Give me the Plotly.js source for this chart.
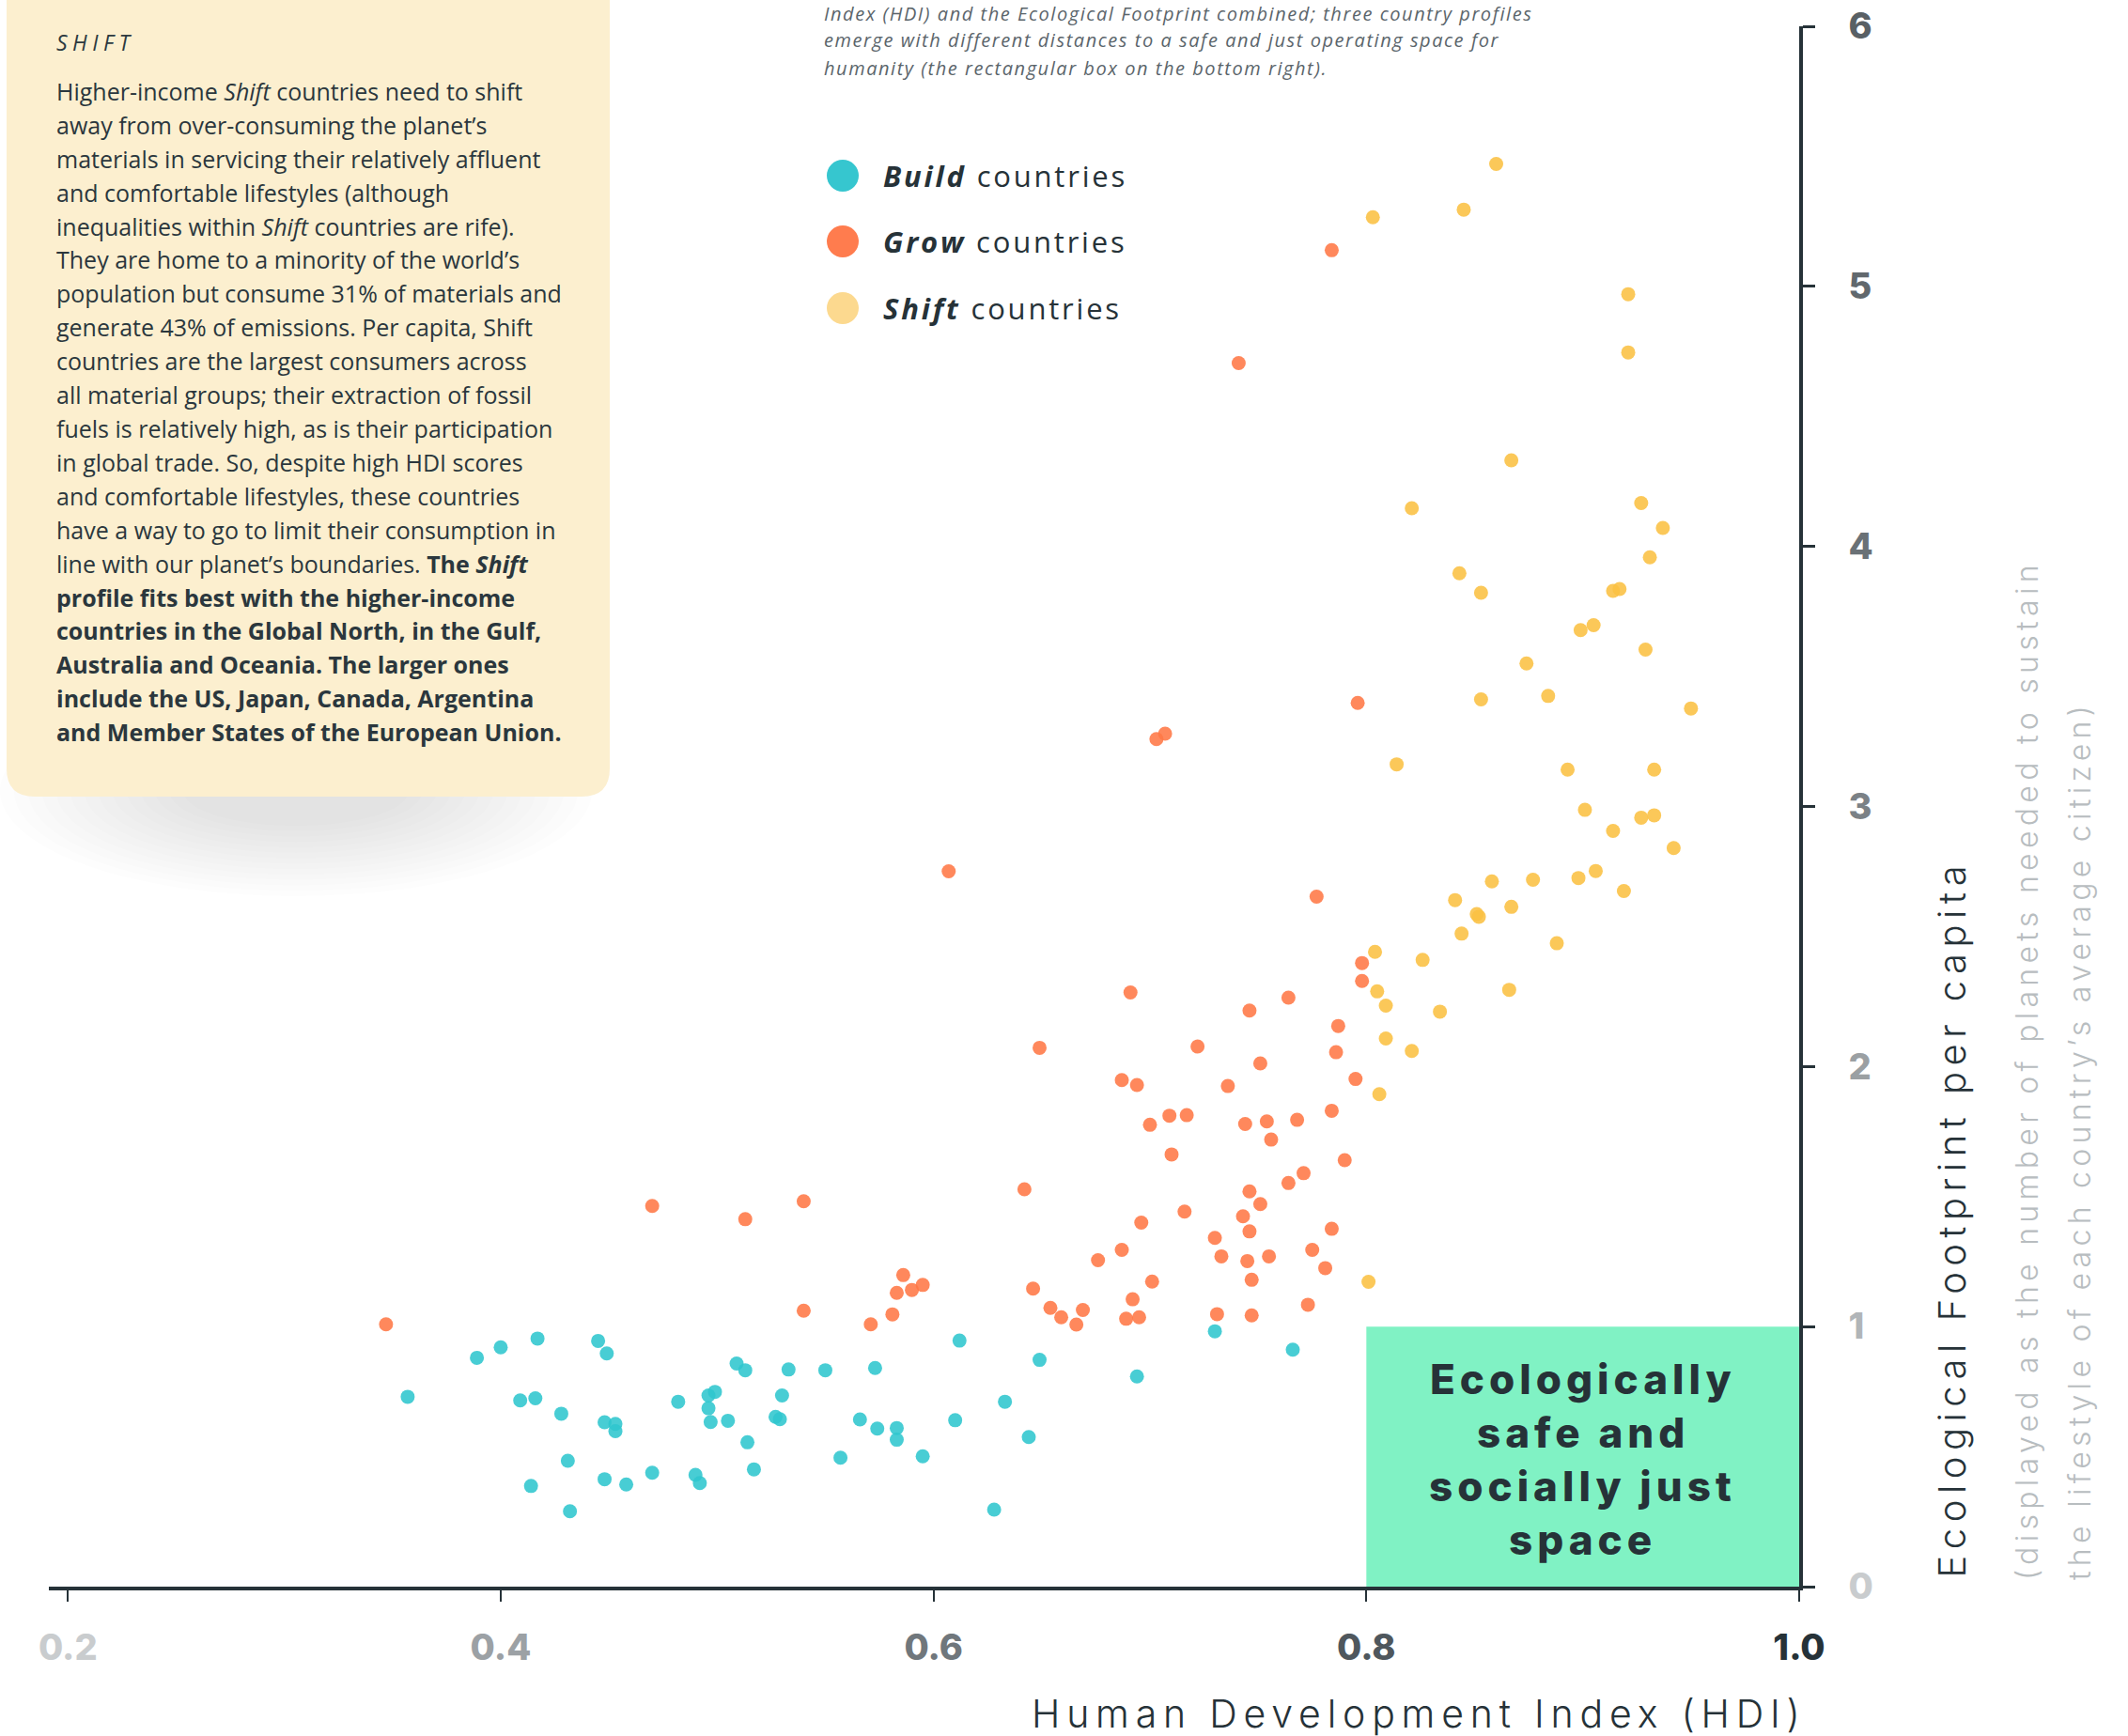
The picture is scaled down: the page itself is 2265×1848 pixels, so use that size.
<!DOCTYPE html>
<html>
<head>
<meta charset="utf-8">
<script src="https://cdn.plot.ly/plotly-3.0.1.min.js"></script>
<style>
html,body{margin:0;padding:0;background:#ffffff;}
#chart{width:2265px;height:1848px;}
</style>
</head>
<body>
<div id="chart"></div>
<script>
// ---------------- DATA ----------------
const buildHDI = [0.357,0.389,0.400,0.417,0.409,0.416,0.414,0.432,0.428,0.431,0.445,0.449,0.448,0.453,0.453,0.448,0.458,0.470,0.482,0.490,0.492,0.496,0.499,0.496,0.497,0.505,0.509,0.513,0.514,0.517,0.527,0.529,0.530,0.533,0.550,0.557,0.566,0.573,0.574,0.583,0.583,0.595,0.612,0.649,0.694,0.633,0.610,0.644,0.628,0.730,0.766];
const buildEF  = [0.73,0.88,0.92,0.954,0.716,0.724,0.387,0.29,0.665,0.484,0.945,0.897,0.632,0.626,0.598,0.413,0.393,0.438,0.711,0.43,0.398,0.735,0.749,0.686,0.633,0.638,0.858,0.832,0.555,0.451,0.653,0.644,0.735,0.835,0.832,0.496,0.643,0.841,0.608,0.61,0.565,0.501,0.946,0.872,0.808,0.711,0.64,0.575,0.296,0.982,0.911];

const growHDI = [0.347,0.470,0.513,0.540,0.540,0.571,0.581,0.583,0.586,0.590,0.595,0.607,0.642,0.646,0.649,0.654,0.659,0.666,0.669,0.676,0.687,0.689,0.692,0.695,0.696,0.701,0.700,0.709,0.717,0.710,0.716,0.730,0.733,0.731,0.746,0.751,0.743,0.746,0.745,0.755,0.747,0.747,0.744,0.754,0.756,0.768,0.764,0.771,0.784,0.775,0.781,0.773,0.784,0.790,0.796,0.703,0.707,0.777,0.798,0.798,0.691,0.764,0.746,0.787,0.722,0.786,0.751,0.795,0.687,0.694,0.736,0.784,0.741];
const growEF  = [1.009,1.464,1.413,1.482,1.061,1.009,1.047,1.130,1.198,1.141,1.160,2.751,1.528,1.146,2.072,1.072,1.036,1.008,1.064,1.255,1.295,1.030,1.105,1.036,1.400,1.173,1.776,1.811,1.813,1.662,1.442,1.341,1.270,1.048,1.520,1.471,1.424,1.366,1.252,1.270,1.180,1.043,1.779,1.789,1.719,1.795,1.552,1.590,1.376,1.295,1.225,1.084,1.830,1.640,3.398,3.259,3.280,2.653,2.398,2.329,2.285,2.265,2.215,2.156,2.077,2.055,2.012,1.952,1.948,1.929,1.925,5.139,4.705];

const shiftHDI = [0.860,0.845,0.803,0.921,0.921,0.867,0.821,0.927,0.937,0.931,0.843,0.853,0.914,0.917,0.899,0.905,0.929,0.874,0.853,0.884,0.950,0.814,0.893,0.933,0.901,0.914,0.927,0.933,0.942,0.858,0.877,0.898,0.906,0.919,0.841,0.867,0.851,0.852,0.844,0.888,0.804,0.826,0.805,0.809,0.866,0.834,0.809,0.821,0.806,0.801];
const shiftEF  = [5.471,5.295,5.266,4.970,4.746,4.331,4.147,4.167,4.071,3.958,3.897,3.822,3.829,3.836,3.678,3.697,3.603,3.550,3.412,3.425,3.377,3.162,3.142,3.142,2.987,2.906,2.957,2.966,2.840,2.712,2.718,2.725,2.752,2.675,2.640,2.614,2.586,2.576,2.511,2.474,2.441,2.410,2.289,2.234,2.295,2.211,2.108,2.060,1.894,1.172];

const groupNames = ['Build', 'Grow', 'Shift'];
const xTickVals = [0.2, 0.4, 0.6, 0.8, 1.0];
const xTickLabels = ['0.2', '0.4', '0.6', '0.8', '1.0'];
const yTickVals = [0, 1, 2, 3, 4, 5, 6];
const yTickLabels = ['0', '1', '2', '3', '4', '5', '6'];
const xRange = [0.1912, 1.0];
const yRange = [0, 6];
const safeHDI = 0.8;     // HDI threshold of the safe and just space
const safeEF = 1;        // one planet threshold

const subtitleLines = [
  'Index (HDI) and the Ecological Footprint combined; three country profiles',
  'emerge with different distances to a safe and just operating space for',
  'humanity (the rectangular box on the bottom right).'
];
const boxHeading = 'SHIFT';
const boxLines = [
  'Higher-income <i>Shift</i> countries need to shift',
  'away from over-consuming the planet’s',
  'materials in servicing their relatively affluent',
  'and comfortable lifestyles (although',
  'inequalities within <i>Shift</i> countries are rife).',
  'They are home to a minority of the world’s',
  'population but consume 31% of materials and',
  'generate 43% of emissions. Per capita, Shift',
  'countries are the largest consumers across',
  'all material groups; their extraction of fossil',
  'fuels is relatively high, as is their participation',
  'in global trade. So, despite high HDI scores',
  'and comfortable lifestyles, these countries',
  'have a way to go to limit their consumption in',
  'line with our planet’s boundaries. <b>The <i>Shift</i></b>',
  '<b>profile fits best with the higher-income</b>',
  '<b>countries in the Global North, in the Gulf,</b>',
  '<b>Australia and Oceania. The larger ones</b>',
  '<b>include the US, Japan, Canada, Argentina</b>',
  '<b>and Member States of the European Union.</b>'
];
const safeSpaceLines = ['Ecologically', 'safe and', 'socially just', 'space'];
const xTitle = 'Human Development Index (HDI)';
const yTitle = 'Ecological Footprint per capita';
const yNoteLines = ['(displayed as the number of planets needed to sustain', 'the lifestyle of each country’s average citizen)'];

// ---------------- STYLE ----------------
const DARK = '#263238';
const markerColors = ['#2fc6ce', '#ff7846', '#fbc042'];
const legendColors = ['#36c6cf', '#ff7c4e', '#fcd98f'];
const xTickColors = ['#c9ccce', '#9ca1a5', '#70777c', '#4f575d', '#263238'];
const yTickColors = ['#c9ccce', '#b1b5b8', '#9ba0a3', '#7b8186', '#6a7176', '#61686d', '#596065'];

const W = 2265, H = 1848;
const M = {l: 52, r: 350, t: 28, b: 159};
const PW = W - M.l - M.r, PH = H - M.t - M.b;
const px2x = p => (p - M.l) / PW;
const py2y = p => (M.t + PH - p) / PH;
const pt = (px, py) => px2x(px) + ',' + py2y(py);

const sp = (s, ls) => '<span style="letter-spacing:' + ls + 'px">' + s + '</span>';

// ---------------- TRACES ----------------
const series = [[buildHDI, buildEF], [growHDI, growEF], [shiftHDI, shiftEF]];
const traces = series.map((s, i) => ({
  type: 'scatter', mode: 'markers', name: groupNames[i] + ' countries',
  x: s[0], y: s[1],
  marker: {size: 15, color: markerColors[i], opacity: 0.88, line: {width: 0}},
  cliponaxis: false, hoverinfo: 'skip', showlegend: false
}));

// ---------------- SHAPES ----------------
const shapes = [];
// soft shadow under the text card (stacked translucent ellipses)
for (let k = 0; k < 14; k++) {
  const f = k / 13;
  const rx = 315 - f * 195, ry = 112 - f * 75, cx = 315, cy = 842;
  shapes.push({type: 'circle', xref: 'paper', yref: 'paper', layer: 'below',
    x0: px2x(cx - rx), x1: px2x(cx + rx), y0: py2y(cy + ry), y1: py2y(cy - ry),
    fillcolor: '#737e86', opacity: 0.016, line: {width: 0}});
}
// text card
(function () {
  const L = 7, R = 649, Tp = -40, B = 848, r = 30;
  const path = 'M' + pt(L, Tp) + ' L' + pt(R, Tp) + ' L' + pt(R, B - r) +
    ' Q' + pt(R, B) + ' ' + pt(R - r, B) + ' L' + pt(L + r, B) +
    ' Q' + pt(L, B) + ' ' + pt(L, B - r) + ' Z';
  shapes.push({type: 'path', xref: 'paper', yref: 'paper', layer: 'below', path: path,
    fillcolor: '#fcefcf', line: {width: 0}});
})();
// safe and just space
shapes.push({type: 'rect', xref: 'x', yref: 'y', layer: 'below',
  x0: safeHDI, x1: xRange[1], y0: yRange[0], y1: safeEF, fillcolor: '#80f2c4', line: {width: 0}});
// legend dots
const legendY = [187, 257, 328];
legendY.forEach((py, i) => {
  shapes.push({type: 'circle', xref: 'paper', yref: 'paper', layer: 'above',
    xsizemode: 'pixel', ysizemode: 'pixel', xanchor: px2x(897), yanchor: py2y(py),
    x0: -17, x1: 17, y0: -17, y1: 17, fillcolor: legendColors[i], line: {width: 0}});
});

// ---------------- ANNOTATIONS ----------------
const ann = [];
const paperAnn = (text, px, py, opts) => Object.assign({
  text: text, xref: 'paper', yref: 'paper', x: px2x(px), y: py2y(py),
  showarrow: false, xanchor: 'left', yanchor: 'middle', align: 'left'
}, opts);

subtitleLines.forEach((s, i) => {
  ann.push(paperAnn(sp(s, 1.55), 875, 14 + i * 29,
    {font: {family: 'Open Sans', size: 20, color: '#5b656b', style: 'italic'}}));
});
ann.push(paperAnn(sp(boxHeading, 5.5), 58, 45,
  {font: {family: 'Open Sans', size: 23, color: '#2d3a40', style: 'italic'}}));
boxLines.forEach((s, i) => {
  ann.push(paperAnn(s, 58, 97 + i * 35.9,
    {font: {family: 'Open Sans', size: 25, color: '#2b373d'}}));
});
groupNames.forEach((g, i) => {
  ann.push(paperAnn(sp('<b><i>' + g + '</i></b> countries', 2.8), 938, legendY[i],
    {font: {family: 'Open Sans', size: 31, color: DARK}}));
});
safeSpaceLines.forEach((s, i) => {
  ann.push({text: sp(s, 5.0), xref: 'x', yref: 'paper', x: (safeHDI + xRange[1]) / 2, y: py2y(1468 + i * 57),
    showarrow: false, xanchor: 'center', yanchor: 'middle', align: 'center',
    font: {family: 'Inter', size: 44, color: DARK, weight: 800}});
});
ann.push(paperAnn(sp(xTitle, 6.8), 1925, 1824,
  {xanchor: 'right', align: 'right', font: {family: 'Inter', size: 41, color: DARK, weight: 300}}));
ann.push({text: sp(yTitle, 6.5), xref: 'paper', yref: 'paper', x: px2x(2077), y: py2y(1682),
  textangle: -90, showarrow: false, xanchor: 'center', yanchor: 'bottom', align: 'left',
  font: {family: 'Inter', size: 40, color: DARK, weight: 300}});
yNoteLines.forEach((s, i) => {
  ann.push({text: sp(s, 5.3), xref: 'paper', yref: 'paper', x: px2x(2157 + i * 56), y: py2y(1684),
    textangle: -90, showarrow: false, xanchor: 'center', yanchor: 'bottom', align: 'left',
    font: {family: 'Inter', size: 32, color: '#b8bdc0', weight: 300}});
});

// ---------------- LAYOUT ----------------
const tickText = (labels, colors) => labels.map((t, i) => '<span style="color:' + colors[i] + '">' + t + '</span>');

const layout = {
  width: W, height: H,
  margin: M,
  paper_bgcolor: '#ffffff', plot_bgcolor: 'rgba(0,0,0,0)',
  showlegend: false, hovermode: false,
  font: {family: 'Open Sans', color: DARK},
  xaxis: {
    range: xRange, showgrid: false, zeroline: false,
    showline: true, linecolor: DARK, linewidth: 4,
    ticks: 'outside', ticklen: 12, tickwidth: 2, tickcolor: DARK,
    tickmode: 'array', tickvals: xTickVals, ticktext: tickText(xTickLabels, xTickColors),
    tickfont: {family: 'Inter', size: 38, color: DARK, weight: 800},
    ticklabelstandoff: 16, fixedrange: true
  },
  yaxis: {
    range: yRange, side: 'right', showgrid: false, zeroline: false,
    showline: true, linecolor: DARK, linewidth: 4,
    ticks: 'outside', ticklen: 13, tickwidth: 3, tickcolor: DARK,
    tickmode: 'array', tickvals: yTickVals, ticktext: tickText(yTickLabels, yTickColors),
    tickfont: {family: 'Inter', size: 38, color: DARK, weight: 800},
    ticklabelstandoff: 28, fixedrange: true
  },
  shapes: shapes,
  annotations: ann
};

Plotly.newPlot('chart', traces, layout, {displayModeBar: false, staticPlot: true});
</script>
</body>
</html>
